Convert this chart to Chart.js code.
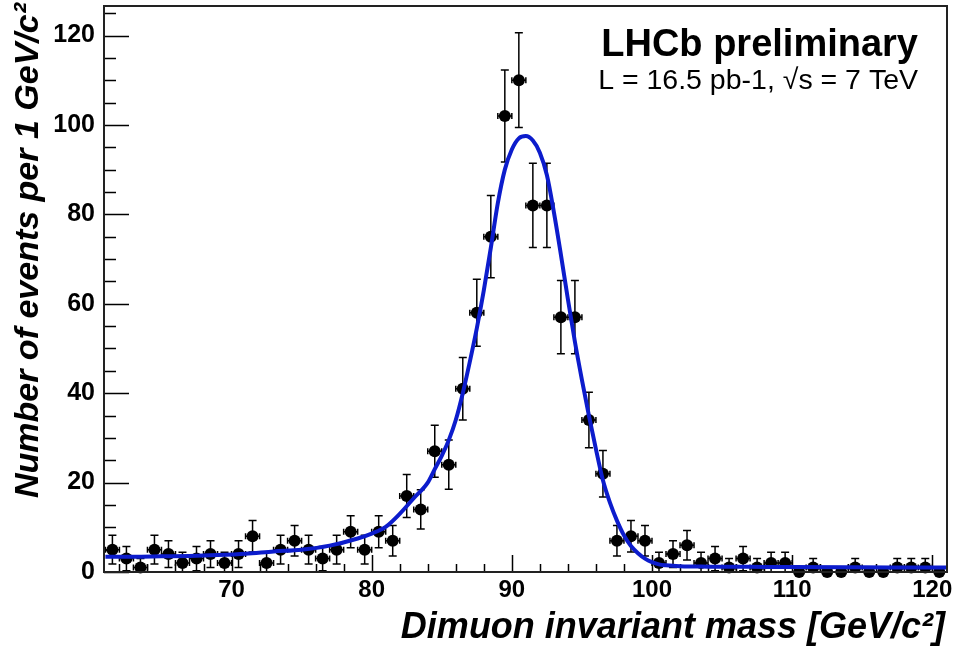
<!DOCTYPE html>
<html>
<head>
<meta charset="utf-8">
<title>LHCb Z peak</title>
<script src="https://cdn.jsdelivr.net/npm/chart.js@4.4.1/dist/chart.umd.min.js"></script>
<style>
  html, body { margin: 0; padding: 0; background: #fff; }
  #wrap { width: 957px; height: 652px; }
</style>
</head>
<body>
<div id="wrap"><canvas id="zPeak" width="957" height="652"></canvas></div>
<script>
// bin centres in GeV/c2 (1 GeV bins)
const massBins = [61.5, 62.5, 63.5, 64.5, 65.5, 66.5, 67.5, 68.5, 69.5, 70.5,
                  71.5, 72.5, 73.5, 74.5, 75.5, 76.5, 77.5, 78.5, 79.5, 80.5,
                  81.5, 82.5, 83.5, 84.5, 85.5, 86.5, 87.5, 88.5, 89.5, 90.5,
                  91.5, 92.5, 93.5, 94.5, 95.5, 96.5, 97.5, 98.5, 99.5, 100.5,
                  101.5, 102.5, 103.5, 104.5, 105.5, 106.5, 107.5, 108.5, 109.5, 110.5,
                  111.5, 112.5, 113.5, 114.5, 115.5, 116.5, 117.5, 118.5, 119.5, 120.5];
const eventCounts = [5, 3, 1, 5, 4, 2, 3, 4, 2, 4,
                     8, 2, 5, 7, 5, 3, 5, 9, 5, 9,
                     7, 17, 14, 27, 24, 41, 58, 75, 102, 110,
                     82, 82, 57, 57, 34, 22, 7, 8, 7, 2,
                     4, 6, 2, 3, 1, 3, 1, 2, 2, 0,
                     1, 0, 0, 1, 0, 0, 1, 1, 1, 0];
const countErrors = [3.2, 2.7, 2.0, 3.2, 3.0, 2.4, 2.7, 3.0, 2.4, 3.0,
                     3.5, 2.4, 3.2, 3.4, 3.2, 2.7, 3.2, 3.6, 3.2, 3.6,
                     3.4, 4.8, 4.4, 5.8, 5.5, 7.0, 7.5, 9.2, 10.3, 10.6,
                     9.4, 9.4, 8.2, 8.2, 6.2, 5.2, 3.4, 3.5, 3.4, 2.4,
                     3.0, 3.3, 2.4, 2.7, 2.0, 2.7, 2.0, 2.4, 2.4, 0,
                     2.0, 0, 0, 2.0, 0, 0, 2.0, 2.0, 2.0, 0];

// fitted curve
const fitMass = [61, 63, 65, 67, 69, 71, 73, 75, 77, 79,
                 80, 81, 82, 83, 84, 84.5, 85, 85.5, 86, 86.5,
                 87, 87.5, 88, 88.5, 89, 89.5, 90, 90.5, 91, 91.5,
                 92, 92.5, 93, 93.5, 94, 94.5, 95, 95.5, 96, 96.5,
                 97, 97.5, 98, 98.5, 99, 99.5, 100, 100.5, 101, 102,
                 104, 107, 110, 115, 121];
const fitValues = [3.4, 3.4, 3.5, 3.6, 3.8, 4.1, 4.6, 5.0, 5.9, 7.5,
                   8.6, 10.1, 13.0, 16.5, 20.0, 23.0, 26.0, 29.5, 34.0, 40.0,
                   47.0, 54.5, 63.0, 72.5, 82.5, 90.0, 94.5, 97.0, 97.5, 96.5,
                   93.8, 88.8, 80.5, 71.0, 61.0, 51.5, 43.0, 35.0, 27.5, 20.5,
                   15.5, 11.5, 8.2, 5.8, 4.2, 3.0, 2.2, 1.7, 1.5, 1.3,
                   1.2, 1.15, 1.1, 1.05, 1.0];

const xTickLabels = [70, 80, 90, 100, 110, 120];
const yTickLabels = [0, 20, 40, 60, 80, 100, 120];

const FONT = '"Liberation Sans", Arial, Helvetica, sans-serif';

let pointData = massBins.map((m, i) => ({ x: m, y: eventCounts[i] }));
let fitData = fitMass.map((m, i) => ({ x: m, y: fitValues[i] }));

// error bars drawn just before the markers so the dots sit on top
const errorBars = {
  id: 'errorBars',
  beforeDatasetDraw(chart, args) {
    if (args.index !== 0) return;
    const ctx = chart.ctx;
    const xs = chart.scales.x, ys = chart.scales.y;
    ctx.save();
    ctx.strokeStyle = '#000';
    ctx.lineWidth = 1.5;
    ctx.beginPath();
    massBins.forEach((m, i) => {
      const n = eventCounts[i], e = countErrors[i];
      if (n === 0) return;
      const px = xs.getPixelForValue(m);
      const py = ys.getPixelForValue(n);
      const top = ys.getPixelForValue(n + e);
      const bot = ys.getPixelForValue(Math.max(n - e, 0));
      ctx.moveTo(px, top); ctx.lineTo(px, bot);
      ctx.moveTo(px - 4, top); ctx.lineTo(px + 4, top);
      ctx.moveTo(px - 4, bot); ctx.lineTo(px + 4, bot);
      const xl = xs.getPixelForValue(m - 0.5), xr = xs.getPixelForValue(m + 0.5);
      ctx.moveTo(xl, py); ctx.lineTo(xr, py);
      ctx.moveTo(xl, py - 3); ctx.lineTo(xl, py + 3);
      ctx.moveTo(xr, py - 3); ctx.lineTo(xr, py + 3);
    });
    ctx.stroke();
    ctx.restore();
  }
};

// ROOT style frame: ticks pointing inwards, titles placed at the axis ends
const rootFrame = {
  id: 'rootFrame',
  beforeDatasetsDraw(chart) {
    const { ctx, chartArea: a, scales: { x, y } } = chart;
    ctx.save();
    ctx.strokeStyle = '#000';
    ctx.lineWidth = 1.5;
    ctx.beginPath();
    y.ticks.forEach(t => {
      const py = Math.round(y.getPixelForValue(t.value)) + 0.5;
      const len = t.value % 20 === 0 ? 25 : 12;
      ctx.moveTo(a.left, py); ctx.lineTo(a.left + len, py);
    });
    x.ticks.forEach(t => {
      const px = Math.round(x.getPixelForValue(t.value)) + 0.5;
      const len = t.value % 10 === 0 ? 17 : 8;
      ctx.moveTo(px, a.bottom); ctx.lineTo(px, a.bottom - len);
    });
    ctx.stroke();
    ctx.restore();
  },
  afterDraw(chart) {
    const { ctx, chartArea: a } = chart;
    ctx.save();
    ctx.strokeStyle = '#222';
    ctx.lineWidth = 2;
    ctx.strokeRect(a.left, a.top, a.right - a.left, a.bottom - a.top);

    ctx.fillStyle = '#000';
    ctx.textAlign = 'right';
    ctx.textBaseline = 'alphabetic';
    ctx.font = 'italic bold 36px ' + FONT;
    ctx.fillText('Dimuon invariant mass [GeV/c²]', 945, 638);

    ctx.save();
    ctx.translate(38, 3);
    ctx.rotate(-Math.PI / 2);
    ctx.font = 'italic bold 34px ' + FONT;
    ctx.fillText('Number of events per 1 GeV/c²', 0, 0);
    ctx.restore();

    ctx.font = 'bold 38px ' + FONT;
    ctx.fillText('LHCb preliminary', 918, 56);
    ctx.font = '28.5px ' + FONT;
    ctx.fillText('L = 16.5 pb-1, √s = 7 TeV', 918, 89);
    ctx.restore();
  }
};

let chartConfig = {
  type: 'scatter',
  data: {
    datasets: [{
      label: 'data',
      data: pointData,
      pointRadius: 6,
      pointBackgroundColor: '#000',
      pointBorderWidth: 0,
      clip: false,
      order: 2,
    }, {
      label: 'fit',
      data: fitData,
      showLine: true,
      pointRadius: 0,
      borderColor: '#0c1ccc',
      borderWidth: 4,
      cubicInterpolationMode: 'monotone',
      order: 1,
    }],
  },
  options: {
    responsive: false,
    animation: false,
    events: [],
    layout: { padding: { left: 0, right: 10, top: 2, bottom: 0 } },
    plugins: {
      legend: { display: false },
      tooltip: { enabled: false },
    },
    scales: {
      x: {
        type: 'linear',
        min: 60.9,
        max: 121.05,
        grid: { display: false, drawTicks: false },
        border: { display: false },
        ticks: {
          stepSize: 2,
          includeBounds: false,
          autoSkip: false,
          maxRotation: 0,
          padding: 4,
          color: '#000',
          font: { family: FONT, size: 24, weight: 'bold' },
          callback: v => xTickLabels.includes(v) ? String(v) : '',
        },
        afterFit(s) { s.height = 80; s.paddingLeft = 0; s.paddingRight = 0; },
      },
      y: {
        min: 0,
        max: 126.6,
        grid: { display: false, drawTicks: false },
        border: { display: false },
        ticks: {
          stepSize: 5,
          includeBounds: false,
          autoSkip: false,
          padding: 9,
          color: '#000',
          font: { family: FONT, size: 25, weight: 'bold' },
          callback: v => yTickLabels.includes(v) ? String(v) : '',
        },
        afterFit(s) { s.width = 104; s.paddingTop = 0; s.paddingBottom = 0; },
      },
    },
  },
  plugins: [errorBars, rootFrame],
};

const zChart = new Chart(document.getElementById('zPeak'), chartConfig);
</script>
</body>
</html>
